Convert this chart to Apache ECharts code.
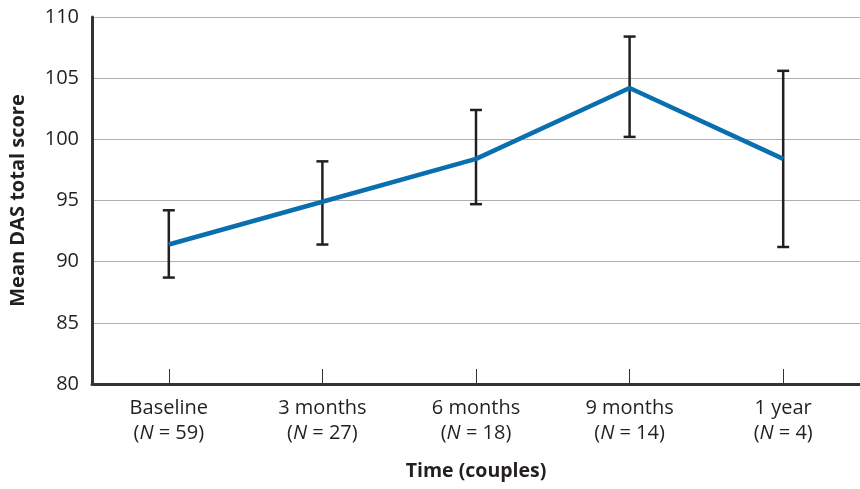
<!DOCTYPE html>
<html>
<head>
<meta charset="utf-8">
<script src="https://cdn.jsdelivr.net/npm/echarts@6/dist/echarts.min.js"></script>
<style>
  html, body { margin: 0; padding: 0; background: #fff; }
  #chart { width: 860px; height: 489px; }
</style>
</head>
<body>
<div id="chart"></div>
<script>
// Time points and number of couples at each
const categories = ['Baseline', '3 months', '6 months', '9 months', '1 year'];
const counts = [59, 27, 18, 14, 4];
// Mean DAS total score with error-bar limits
const means = [91.4, 94.9, 98.4, 104.2, 98.4];
const lower = [88.7, 91.4, 94.7, 100.2, 91.2];
const upper = [94.2, 98.2, 102.4, 108.4, 105.6];

const FONT = "'Open Sans', 'Noto Sans', sans-serif";
const INK = '#231f20';

const labelMap = {};
categories.forEach((c, i) => { labelMap[c] = counts[i]; });

const chart = echarts.init(document.getElementById('chart'));
chart.setOption({
  animation: false,
  textStyle: { fontFamily: FONT },
  grid: { left: 92, right: 0, top: 17, bottom: 105, containLabel: false, outerBoundsMode: 'none' },
  xAxis: {
    type: 'category',
    data: categories,
    boundaryGap: true,
    name: 'Time (couples)',
    nameLocation: 'middle',
    nameGap: 77,
    nameTextStyle: { fontFamily: FONT, fontSize: 19.5, fontWeight: 'bold', color: INK },
    axisLine: { lineStyle: { color: '#333', width: 3 } },
    axisTick: { show: true, alignWithLabel: true, inside: true, length: 15, lineStyle: { color: '#333', width: 1 } },
    axisLabel: {
      margin: 12,
      interval: 0,
      lineHeight: 25,
      formatter: v => '{a|' + v + '}\n{a|(}{i|N}{a| = ' + labelMap[v] + ')}',
      rich: {
        a: { fontFamily: FONT, fontSize: 20, color: INK, lineHeight: 25 },
        i: { fontFamily: FONT, fontSize: 20, color: INK, fontStyle: 'italic', lineHeight: 25 }
      }
    },
    splitLine: { show: false }
  },
  yAxis: {
    type: 'value',
    min: 80,
    max: 110,
    interval: 5,
    name: 'Mean DAS total score',
    nameLocation: 'middle',
    nameGap: 64,
    nameRotate: 90,
    nameTextStyle: { fontFamily: FONT, fontSize: 20, fontWeight: 'bold', color: INK },
    axisLine: { show: true, lineStyle: { color: '#333', width: 3 } },
    axisTick: { show: false },
    axisLabel: { margin: 13, fontFamily: FONT, fontSize: 20, color: INK },
    splitLine: { show: true, lineStyle: { color: '#b0b0b0', width: 1 } }
  },
  series: [
    {
      type: 'custom',
      name: 'error',
      z: 3,
      data: categories.map((c, i) => [i, lower[i], upper[i]]),
      renderItem: (params, api) => {
        const lo = api.coord([api.value(0), api.value(1)]);
        const hi = api.coord([api.value(0), api.value(2)]);
        const half = 6;
        const style = { stroke: INK, lineWidth: 2.5 };
        return {
          type: 'group',
          children: [
            { type: 'line', shape: { x1: hi[0], y1: hi[1], x2: lo[0], y2: lo[1] }, style },
            { type: 'line', shape: { x1: hi[0] - half, y1: hi[1], x2: hi[0] + half, y2: hi[1] }, style },
            { type: 'line', shape: { x1: lo[0] - half, y1: lo[1], x2: lo[0] + half, y2: lo[1] }, style }
          ]
        };
      }
    },
    {
      type: 'line',
      name: 'mean',
      z: 4,
      data: means,
      symbol: 'none',
      lineStyle: { color: '#0a6fae', width: 4.5 }
    }
  ]
});
</script>
</body>
</html>
